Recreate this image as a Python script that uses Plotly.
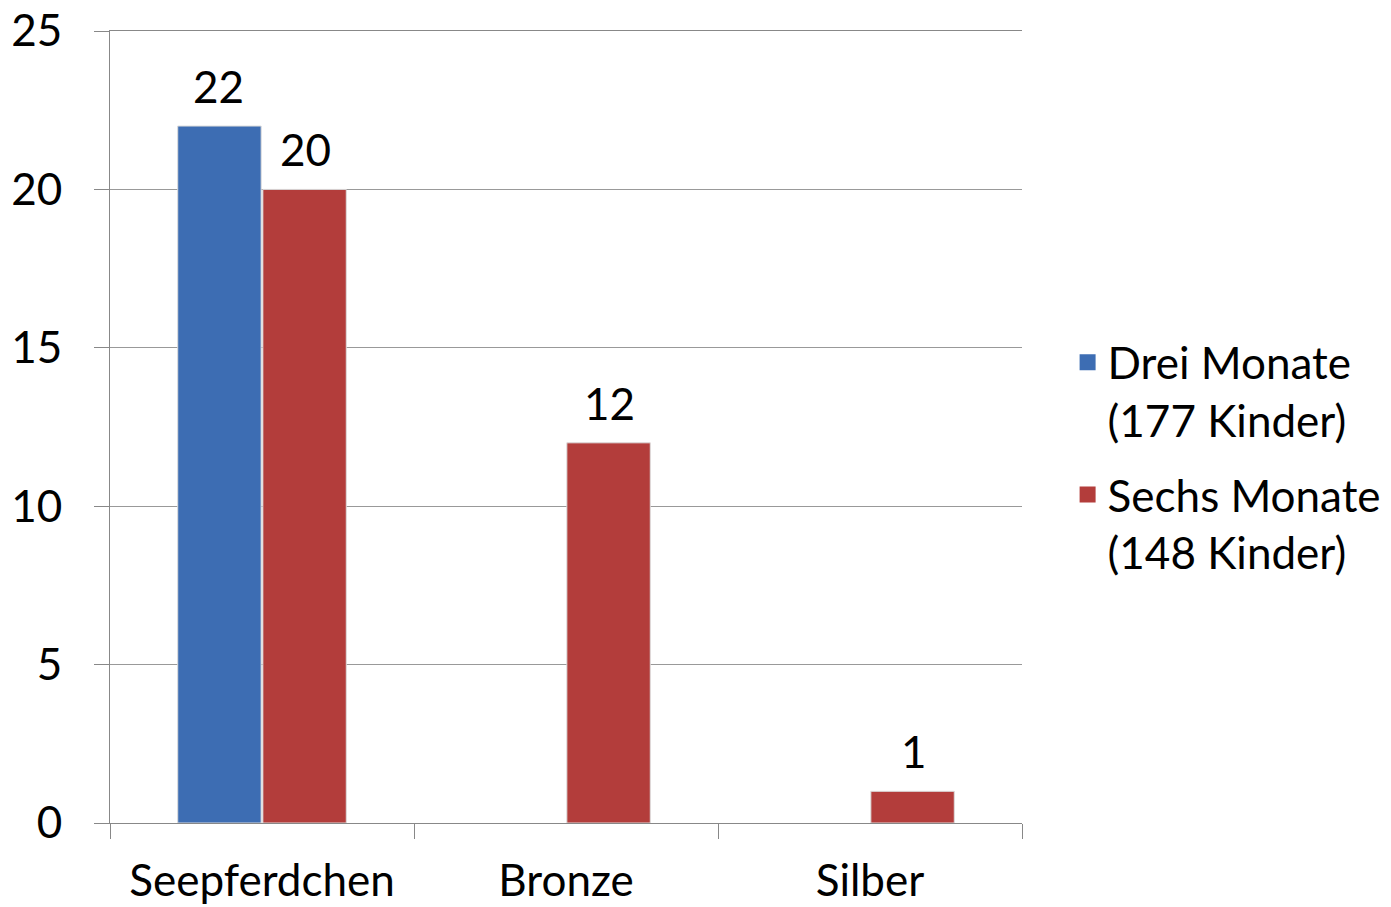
import plotly.graph_objects as go

categories = ["Seepferdchen", "Bronze", "Silber"]
drei_monate = [22, None, None]
sechs_monate = [20, 12, 1]
series_names = ["Drei Monate<br>(177 Kinder)", "Sechs Monate<br>(148 Kinder)"]
colors = ["#3D6DB3", "#B33D3B"]
y_ticks = [0, 5, 10, 15, 20, 25]

FONT = "Lato"
FS = 44
fig = go.Figure()
for i, (vals, name, col) in enumerate([(drei_monate, series_names[0], colors[0]),
                                       (sechs_monate, series_names[1], colors[1])]):
    fig.add_bar(x=categories, y=vals, name=name, showlegend=False,
                marker=dict(color=col, line=dict(color="#dcdcdc", width=1)))
    # legend proxy with a larger square swatch
    fig.add_scatter(x=[None], y=[None], mode="markers", name=name,
                    legendgroup=f"g{i}",
                    marker=dict(symbol="square", size=23, color=col))

# data labels above bars
for vals, shift in [(drei_monate, -43.5), (sechs_monate, 43.5)]:
    for c, v in zip(categories, vals):
        if v is None:
            continue
        fig.add_annotation(x=c, y=v, text=str(v), showarrow=False,
                           xshift=shift, yanchor="bottom", yshift=12,
                           font=dict(family=FONT, size=FS, color="#000"))

fig.update_layout(
    width=1391, height=907,
    margin=dict(l=110, r=369, t=31, b=84, autoexpand=False),
    paper_bgcolor="white", plot_bgcolor="white",
    barmode="group", bargap=0.44, bargroupgap=0.02,
    font=dict(family=FONT, size=FS, color="#000"),
    legend=dict(x=1.05, y=0.462, xanchor="left", yanchor="middle",
                font=dict(family=FONT, size=FS), itemsizing="trace",
                valign="top", tracegroupgap=15),
    showlegend=True,
)
fig.update_xaxes(type="category", range=[-0.5, 2.5], tickson="boundaries",
                 ticks="outside", ticklen=15, tickcolor="#888", tickwidth=1,
                 showline=True, linecolor="#888", linewidth=1, mirror=True,
                 showgrid=False, automargin=False, ticklabelstandoff=19,
                 ticklabeloverflow="allow",
                 tickfont=dict(family=FONT, size=FS))
fig.update_yaxes(range=[0, 25], tickvals=y_ticks, ticks="outside", ticklen=15,
                 tickcolor="#888", tickwidth=1, showline=True, linecolor="#888",
                 linewidth=1, showgrid=True, gridcolor="#999", gridwidth=1,
                 zeroline=False, ticklabelstandoff=23, automargin=False,
                 ticklabeloverflow="allow",
                 tickfont=dict(family=FONT, size=FS))

fig.write_html("out.html", config={"displayModeBar": False},
               post_script="document.body.style.margin='0px';document.body.style.overflow='hidden';")
